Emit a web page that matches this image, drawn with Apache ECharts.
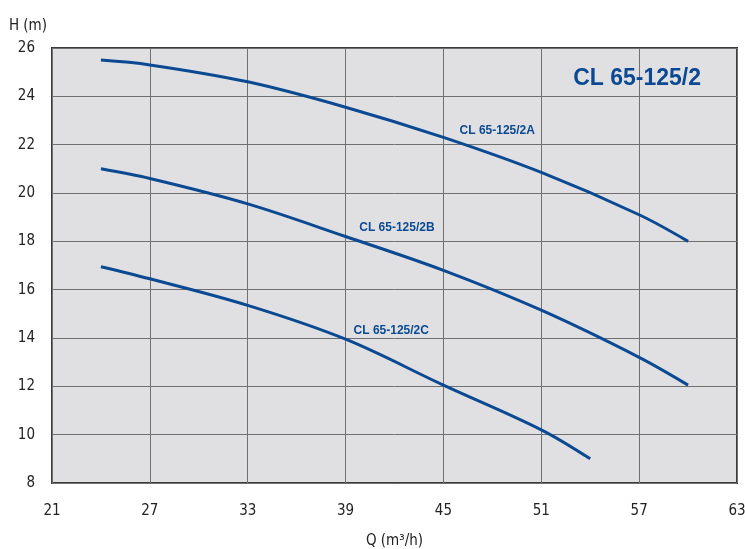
<!DOCTYPE html>
<html>
<head>
<meta charset="utf-8">
<script src="https://cdn.jsdelivr.net/npm/echarts@6/dist/echarts.min.js"></script>
<style>html,body{margin:0;padding:0;background:#fff}#c{width:745px;height:549px}</style>
</head>
<body>
<div id="c"></div>
<script>
var title = 'CL 65-125/2';
var seriesNames = ['CL 65-125/2A', 'CL 65-125/2B', 'CL 65-125/2C'];
var qA = [24, 27, 33, 39, 45, 51, 57, 60];
var hA = [25.5, 25.3, 24.6, 23.55, 22.3, 20.85, 19.1, 18.0];
var qB = [24, 27, 33, 39, 45, 51, 57, 60];
var hB = [21.0, 20.6, 19.55, 18.2, 16.8, 15.15, 13.2, 12.05];
var qC = [24, 27, 33, 39, 45, 51, 54];
var hC = [16.95, 16.45, 15.35, 13.95, 12.05, 10.2, 9.0];
var xTicks = [21, 27, 33, 39, 45, 51, 57, 63];
var yTicks = [8, 10, 12, 14, 16, 18, 20, 22, 24, 26];

var condFont = "'Liberation Sans Narrow', 'DejaVu Sans Condensed', 'Roboto Condensed', sans-serif";
var blue = '#0b4a92';

function pairs(q, h) { return q.map(function (v, i) { return [v, h[i]]; }); }

var labelAnchors = [[48.3, 22.57], [42.15, 18.55], [41.8, 14.29]];

var chart = echarts.init(document.getElementById('c'), null, {renderer: 'canvas'});
var curves = [pairs(qA, hA), pairs(qB, hB), pairs(qC, hC)];
chart.setOption({
  animation: false,
  backgroundColor: '#ffffff',
  grid: {left: 52, right: 8, top: 48, bottom: 66, show: true, outerBoundsMode: 'none', containLabel: false,
         backgroundColor: '#e0e0e3', borderColor: '#3c3c3c', borderWidth: 2},
  title: {
    text: title, right: 39, top: 62,
    textStyle: {color: blue, fontSize: 23, fontWeight: 'bold', fontFamily: 'Liberation Sans, Arial, sans-serif'}
  },
  xAxis: {
    type: 'value', min: xTicks[0], max: xTicks[xTicks.length - 1], interval: 6,
    name: 'Q (m³/h)', nameLocation: 'middle', nameGap: 51,
    nameTextStyle: {color: '#222', fontSize: 15, fontFamily: condFont},
    axisLine: {show: false}, axisTick: {show: false},
    axisLabel: {color: '#222', fontSize: 15, fontFamily: condFont, margin: 21},
    splitLine: {show: true, lineStyle: {color: '#707070', width: 1}}
  },
  yAxis: {
    type: 'value', min: yTicks[0], max: yTicks[yTicks.length - 1], interval: 2,
    name: 'H (m)', nameLocation: 'end', nameGap: 14,
    nameTextStyle: {color: '#222', fontSize: 15, fontFamily: condFont, align: 'right', padding: [0, 5, 0, 0]},
    axisLine: {show: false}, axisTick: {show: false},
    axisLabel: {color: '#222', fontSize: 15, fontFamily: condFont, margin: 17},
    splitLine: {show: true, lineStyle: {color: '#707070', width: 1}}
  },
  series: curves.map(function (d, i) {
    return {
      type: 'line', name: seriesNames[i], data: d, smooth: 0.35, symbol: 'none',
      lineStyle: {color: blue, width: 3},
      markPoint: {
        symbol: 'circle', symbolSize: 0,
        data: [{coord: labelAnchors[i], value: seriesNames[i]}],
        label: {show: true, position: 'inside', formatter: seriesNames[i], color: blue, fontSize: 12, fontWeight: 'bold', fontFamily: 'Liberation Sans, Arial, sans-serif'}
      }
    };
  })
});
</script>
</body>
</html>
